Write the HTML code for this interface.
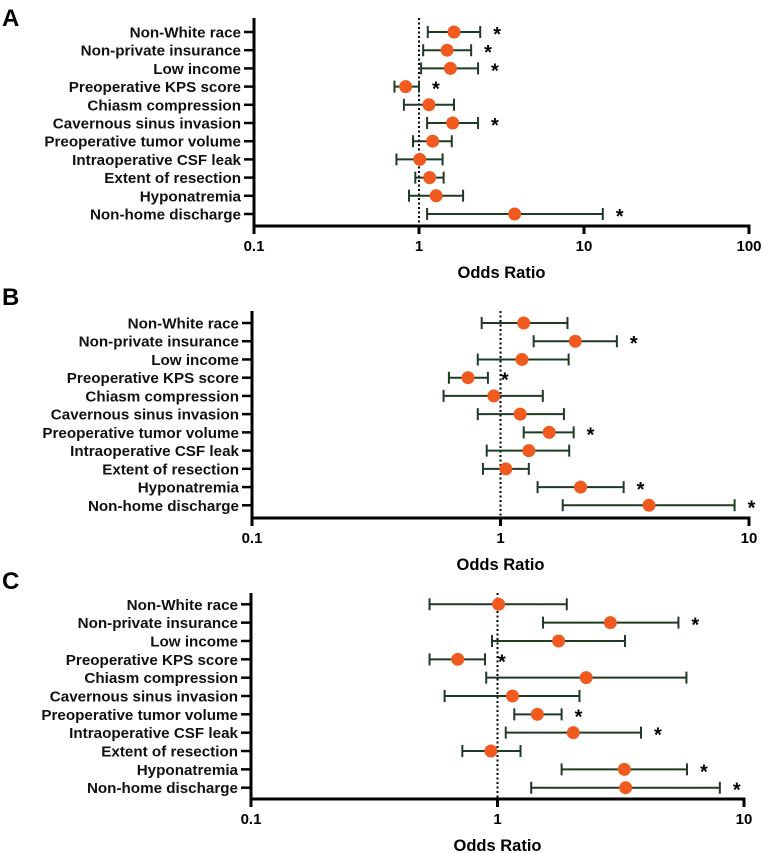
<!DOCTYPE html>
<html><head><meta charset="utf-8"><style>
html,body{margin:0;padding:0;background:#fff;}
svg{display:block;font-family:"Liberation Sans",Arial,sans-serif;}
</style></head><body>
<svg id="chart" width="762" height="853" viewBox="0 0 762 853"></svg>
<script>
const categories = ["Non-White race","Non-private insurance","Low income","Preoperative KPS score","Chiasm compression","Cavernous sinus invasion","Preoperative tumor volume","Intraoperative CSF leak","Extent of resection","Hyponatremia","Non-home discharge"];
const orA = [1.63,1.48,1.55,0.83,1.15,1.6,1.21,1.01,1.16,1.27,3.8];
const loA = [1.13,1.06,1.03,0.71,0.81,1.12,0.92,0.73,0.95,0.87,1.12];
const hiA = [2.35,2.07,2.28,1.0,1.63,2.28,1.58,1.39,1.41,1.85,13.0];
const sigA = [1,1,1,1,0,1,0,0,0,0,1];
const orB = [1.24,2.0,1.22,0.74,0.94,1.2,1.57,1.3,1.05,2.1,3.96];
const loB = [0.84,1.36,0.81,0.62,0.59,0.81,1.24,0.88,0.85,1.41,1.78];
const hiB = [1.86,2.94,1.88,0.89,1.48,1.8,1.97,1.89,1.3,3.13,8.75];
const sigB = [0,1,0,1,0,0,1,0,0,1,1];
const orC = [1.01,2.87,1.77,0.69,2.29,1.15,1.45,2.03,0.94,3.27,3.31];
const loC = [0.53,1.53,0.95,0.53,0.9,0.61,1.17,1.08,0.72,1.82,1.37];
const hiC = [1.91,5.42,3.29,0.89,5.84,2.15,1.82,3.82,1.24,5.87,7.98];
const sigC = [0,1,0,1,0,0,1,1,0,1,1];
const ticksA = ["0.1","1","10","100"];
const ticksBC = ["0.1","1","10"];

const NS="http://www.w3.org/2000/svg";
const svg=document.getElementById('chart');
function mk(tag,attrs,parent){const e=document.createElementNS(NS,tag);for(const k in attrs)e.setAttribute(k,attrs[k]);(parent||svg).appendChild(e);return e;}

const panels=[
 {id:'a',letter:'A',ly:26,x0:254,dec:165,top:18,y0:32,dy:18.2,axisY:226,ticks:ticksA,or:orA,lo:loA,hi:hiA,sig:sigA},
 {id:'b',letter:'B',ly:305,x0:252,dec:248.5,top:311,y0:323,dy:18.23,axisY:518,ticks:ticksBC,or:orB,lo:loB,hi:hiB,sig:sigB},
 {id:'c',letter:'C',ly:589,x0:251,dec:246.5,top:593,y0:604.3,dy:18.34,axisY:799,ticks:ticksBC,or:orC,lo:loC,hi:hiC,sig:sigC}
];
panels.forEach(p=>{
  const g=mk('g',{});
  
  
  const xs=v=>p.x0+(Math.log10(v)+1)*p.dec;
  const ys=i=>p.y0+i*p.dy;
  const L=mk('text',{x:2,y:p.ly,'font-size':24,'font-weight':'bold',fill:'#000'},g);L.textContent=p.letter;
  
  
  const xEnd=xs(Math.pow(10,p.ticks.length-2));
  const ya=mk('line',{x1:p.x0,y1:p.top,x2:p.x0,y2:p.axisY+1.5,stroke:'#000','stroke-width':3},g);
  
  
  const xa=mk('line',{x1:p.x0-1.5,y1:p.axisY,x2:xEnd+1.5,y2:p.axisY,stroke:'#000','stroke-width':3},g);
  
  
  p.ticks.forEach((t,k)=>{
    const x=xs(parseFloat(t));
    mk('line',{x1:x,y1:p.axisY,x2:x,y2:p.axisY+8,stroke:'#000','stroke-width':3},g);
    const tt=mk('text',{x:x,y:p.axisY+25,'font-size':15,'font-weight':'bold','text-anchor':'middle'},g);tt.textContent=t;
    
    
  });
  const ref=mk('line',{x1:xs(1),y1:p.top,x2:xs(1),y2:p.axisY,stroke:'#000','stroke-width':2,'stroke-dasharray':'2,2.5'},g);
  
  
  const xt=mk('text',{x:(p.x0+xEnd)/2,y:p.axisY+52,'font-size':16.5,'font-weight':'bold','text-anchor':'middle'},g);xt.textContent='Odds Ratio';
  
  
  categories.forEach((c,i)=>{
    const y=ys(i);
    mk('line',{x1:p.x0-10,y1:y,x2:p.x0,y2:y,stroke:'#000','stroke-width':2.5},g);
    const lab=mk('text',{x:p.x0-13,y:y+5.5,'font-size':15.2,'font-weight':'bold','text-anchor':'end',fill:'#111'},g);lab.textContent=c;
    
    
    const lo=xs(p.lo[i]),hi=xs(p.hi[i]);
    const eb=mk('path',{d:`M${lo},${y}H${hi}M${lo},${y-6}V${y+6}M${hi},${y-6}V${y+6}`,stroke:'#1f3b25','stroke-width':2,fill:'none'},g);
    
    
    const d=mk('circle',{cx:xs(p.or[i]),cy:y,r:6.5,fill:'#f05a1e'},g);
    
    
    if(p.sig[i]){
      const s=mk('text',{x:hi+13,y:y+9,'font-size':20,'font-weight':'bold'},g);s.textContent='*';
      
      
    }
  });
});
</script>
</body></html>
